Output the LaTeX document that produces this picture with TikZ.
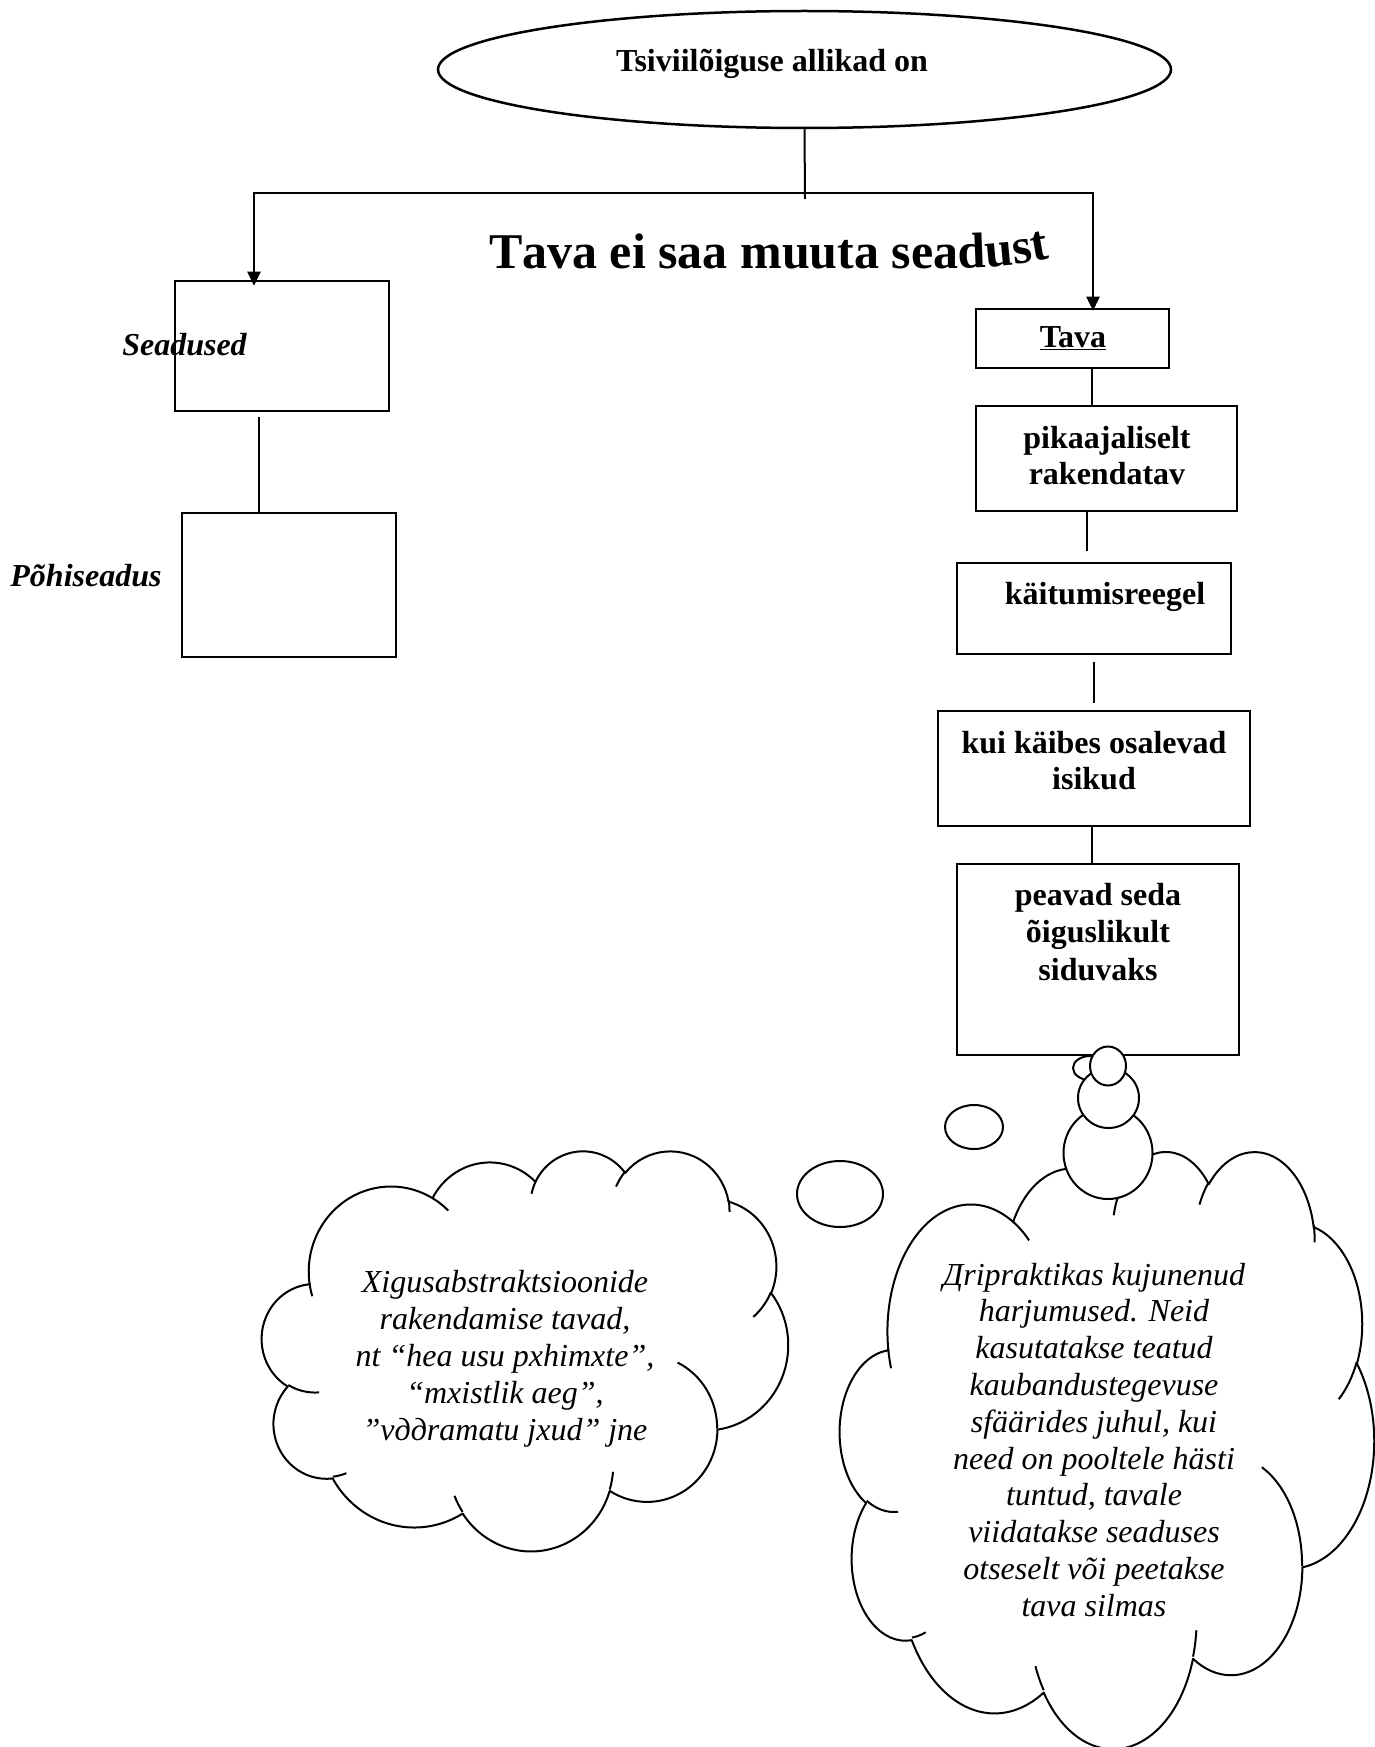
\documentclass[tikz,border=0pt]{standalone}
\usepackage{fontspec}
\setmainfont{Liberation Serif}
\usetikzlibrary{shapes.geometric,arrows.meta,decorations.text}

% ---- cloud outline (DrawingML "cloud" geometry on a 43.2 x 43.2 grid) ----
\newcommand\cloudbox[4]{%
  \def\clx{#1}\def\cly{#2}%
  \pgfmathsetmacro\clsx{#3/43.2}%
  \pgfmathsetmacro\clsy{#4/43.2}}
\newcommand\clmove[2]{\pgfpathmoveto{\pgfpoint{\clx pt+#1*\clsx pt}{-\cly pt-#2*\clsy pt}}}
\newcommand\clarc[4]{%
  \pgfmathsetmacro\cla{atan2(sin(#3)/#2,cos(#3)/#1)}%
  \pgfmathsetmacro\clb{atan2(sin(#3+#4)/#2,cos(#3+#4)/#1)}%
  \pgfmathsetmacro\cle{\cla+mod(\clb-\cla+720,360)}%
  \pgfpatharcaxes{\cla}{\cle}{\pgfpoint{#1*\clsx pt}{0pt}}{\pgfpoint{0pt}{-#2*\clsy pt}}}
\newcommand\cloudoutline{%
  \clmove{3.900}{14.370}%
  \clarc{6.753}{9.190}{-190.4875}{123.7805}%
  \clarc{5.333}{7.267}{-144.1024}{89.9452}%
  \clarc{4.365}{5.945}{-145.8079}{99.7230}%
  \clarc{4.857}{6.595}{-130.9861}{117.2417}%
  \clarc{5.333}{7.273}{-78.7089}{109.0269}%
  \clarc{6.775}{9.220}{-46.2673}{130.2690}%
  \clarc{5.785}{7.867}{0.6250}{114.0333}%
  \clarc{6.752}{9.215}{22.4516}{115.1726}%
  \clarc{7.720}{10.543}{66.2426}{75.7110}%
  \clarc{4.360}{5.918}{-274.9421}{146.7356}%
  \clarc{4.345}{5.945}{-246.8285}{152.5189}%
  \pgfpathclose}
\newcommand\cloudcreases{%
  \clmove{4.693}{26.177}\clarc{4.345}{5.945}{86.7420}{26.4295}%
  \clmove{6.928}{34.899}\clarc{4.360}{5.918}{73.6105}{11.4475}%
  \clmove{16.478}{39.090}\clarc{6.752}{9.215}{137.6242}{14.0811}%
  \clmove{28.827}{34.751}\clarc{6.752}{9.215}{6.4533}{15.9984}%
  \clmove{34.129}{22.954}\clarc{5.785}{7.867}{-70.2924}{70.9174}%
  \clmove{41.798}{15.354}\clarc{5.333}{7.273}{30.3180}{27.7515}%
  \clmove{38.324}{5.426}\clarc{4.857}{6.595}{-13.7443}{14.8589}%
  \clmove{29.078}{3.952}\clarc{4.857}{6.595}{-149.1815}{18.1954}%
  \clmove{22.141}{4.720}\clarc{4.365}{5.945}{-163.4943}{17.6864}%
  \clmove{14.000}{5.192}\clarc{6.753}{9.190}{-66.7070}{12.3194}%
  \clmove{4.127}{15.789}\clarc{6.753}{9.190}{157.6544}{11.8582}}
% #1,#2 = top left corner, #3 = width, #4 = height
\newcommand\drawcloud[4]{%
  \cloudbox{#1}{#2}{#3}{#4}%
  \begin{pgfscope}
    \pgfsetlinewidth{2pt}\pgfsetroundjoin
    \pgfsetfillcolor{white}\pgfsetstrokecolor{black}%
    \cloudoutline\pgfusepath{fill,stroke}%
    \cloudcreases\pgfusepath{stroke}%
  \end{pgfscope}}

\newcommand\mlines[2]{\parbox[t]{#1pt}{\centering #2}}

\tikzset{
  box/.style={draw, line width=2.6pt, inner sep=0pt},
  conn/.style={line width=2pt},
  arrowed/.style={conn, -{Triangle[length=14pt,width=13pt]}},
  boxtext/.style={inner sep=0pt, anchor=base, font=\bfseries\fontsize{32}{36}\selectfont},
  sidetext/.style={inner sep=0pt, anchor=base, font=\bfseries\itshape\fontsize{32}{36}\selectfont},
  cloudtext/.style={inner sep=0pt, anchor=base, font=\itshape\fontsize{32}{36.8}\selectfont},
  bubble/.style={draw, ellipse, fill=white, line width=2pt, inner sep=0pt}
}

\begin{document}
\begin{tikzpicture}[x=1pt, y=-1pt]
\useasboundingbox[fill=white] (0,0) rectangle (1375,1747);

% title
\node[draw, ellipse, line width=2.5pt, minimum width=733pt, minimum height=117pt, inner sep=0pt]
  (title) at (804.5,69.5) {};
\node[boxtext] (titletext) at (772,72) {Tsiviilõiguse allikad on};

% left column boxes
\node[box, minimum width=214pt, minimum height=130pt] (seadused) at (282,346) {};
\node[box, minimum width=214pt, minimum height=144pt] (pohi) at (289,585) {};
\node[sidetext] (seadtext) at (184.5,355) {Seadused};
\node[sidetext] (pohitext) at (86,586) {Põhiseadus};

% right column boxes
\node[box, minimum width=193pt, minimum height=59pt] (tava) at (1072.5,338.5) {};
\node[box, minimum width=261pt, minimum height=105pt] (pika) at (1106.5,458.5) {};
\node[box, minimum width=274pt, minimum height=91pt] (kait) at (1094,608.5) {};
\node[box, minimum width=312pt, minimum height=115pt] (kui) at (1094,768.5) {};
\node[box, minimum width=282pt, minimum height=191pt] (peavad) at (1098,959.5) {};

\node[boxtext] (tavatext) at (1073,347) {\underline{Tava}};
\node[boxtext] (pikatext) at (1107,448) {\mlines{300}{pikaajaliselt\\rakendatav}};
\node[boxtext] (kaittext) at (1105,604) {käitumisreegel};
\node[boxtext] (kuitext) at (1094,753) {\mlines{340}{\fontsize{32}{36.5}\selectfont kui käibes osalevad\\isikud}};
\node[boxtext] (peavadtext) at (1098,905) {\mlines{300}{\fontsize{32}{37.5}\selectfont peavad seda\\õiguslikult\\siduvaks}};

% connectors
\coordinate (junction) at (805,193);
\draw[conn] (title.south) -- ([yshift=-6pt]junction);
\draw[arrowed] (junction) -| ([xshift=-28pt,yshift=-6pt]seadused.north);
\draw[arrowed] (junction) -| ([xshift=20.5pt,yshift=-3pt]tava.north);
\draw[conn] ([xshift=-23.5pt,yshift=-5pt]seadused.south) -- ([xshift=-30.5pt]pohi.north);
\draw[conn] ([xshift=19.5pt]tava.south) -- ([xshift=-14.5pt]pika.north);
\draw[conn] ([xshift=-19.5pt]pika.south) -- ([xshift=-7pt,yshift=11pt]kait.north);
\draw[conn] ([yshift=-7pt]kait.south) -- ([yshift=7pt]kui.north);
\draw[conn] ([xshift=-2pt]kui.south) -- ([xshift=-6pt]peavad.north);

% word art: flat baseline that lifts gently at the end
\path[decorate, decoration={text along path, text align=center,
  text={|\bfseries\fontsize{50}{60}\selectfont|Tava ei saa muuta seadust}}]
  (458,268) -- (950,268) .. controls (995,268) and (1035,263) .. (1080,252);

% left thought cloud
\drawcloud{262}{1150}{526}{400}
\node[bubble, minimum width=86pt, minimum height=66pt] (lb1) at (840,1194) {};
\node[bubble, minimum width=58pt, minimum height=44pt] (lb2) at (974,1127) {};
\node[bubble, minimum width=34pt, minimum height=24pt] (lb3) at (1090,1068) {};

% right thought cloud
\drawcloud{840}{1150}{534}{597}
\node[bubble, minimum width=89pt, minimum height=92pt] (rb1) at (1108,1153) {};
\node[bubble, minimum width=61pt, minimum height=60pt] (rb2) at (1108.5,1098) {};
\node[bubble, minimum width=36pt, minimum height=39pt] (rb3) at (1108,1066) {};

\node[cloudtext] (lefttext) at (505,1292) {\mlines{420}{\fontsize{32}{37}\selectfont
  Хigusabstraktsioonide\\rakendamise tavad,\\nt “hea usu pхhimхte”,\\“mхistlik aeg”,\\”vддramatu jхud” jne}};
\node[cloudtext] (righttext) at (1094,1285) {\mlines{420}{Дripraktikas kujunenud\\harjumused. Neid\\kasutatakse teatud\\kaubandustegevuse\\sfäärides juhul, kui\\need on pooltele hästi\\tuntud, tavale\\viidatakse seaduses\\otseselt või peetakse\\tava silmas}};
\end{tikzpicture}
\end{document}
